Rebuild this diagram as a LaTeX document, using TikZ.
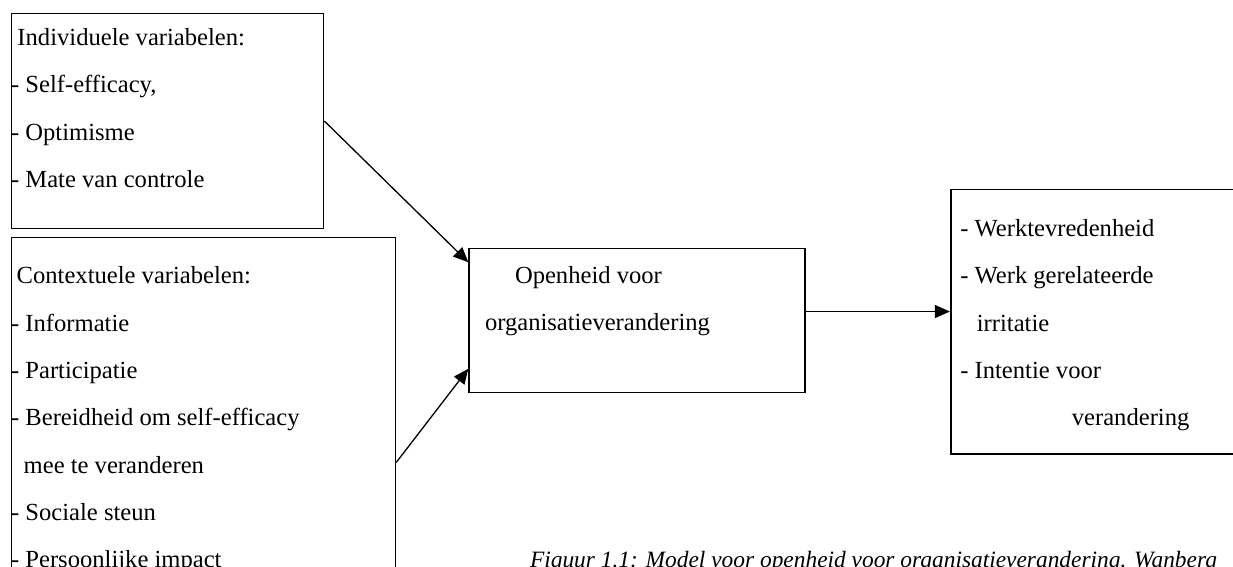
\documentclass[tikz,border=0pt]{standalone}
\usepackage{fontspec}
\setmainfont{Liberation Serif}
\usetikzlibrary{arrows.meta,positioning}
\tikzset{
  varbox/.style={draw=black,line width=0.8pt,inner sep=0pt},
  vartext/.style={inner sep=0pt,align=left,anchor=base west,
    font=\fontsize{12.3pt}{23.65pt}\selectfont},
  arr/.style={-{Triangle[length=7.5pt,width=6.5pt]},draw=black,line width=0.65pt},
}

\begin{document}
\begin{tikzpicture}[x=1pt,y=1pt]
    \useasboundingbox (0,0) rectangle (616.5,283.5);
    \clip (0,0) rectangle (616.5,283.5);

    \node[varbox,minimum width=156pt,minimum height=107.5pt,anchor=north west] (indiv) at (5.35,277.15) {};
    \node[varbox,minimum width=192pt,minimum height=225pt,below=3.65pt of indiv.south west,anchor=north west] (ctx) {};
    \node[varbox,minimum width=168pt,minimum height=72pt,below right=9.15pt and 72pt of indiv.south east] (open) {};
    \node[varbox,minimum width=180pt,minimum height=132.2pt,above right=29.35pt and 72pt of open.north east,anchor=north west] (outc) {};

    \node[vartext,below right=87.45pt and 0pt of indiv.north west,anchor=base west] (indivtxt)
      {\hspace*{3.2pt}Individuele variabelen:\\- Self-efficacy,\\- Optimisme\\- Mate van controle};
    \node[vartext,below right=165.55pt and 0pt of ctx.north west,anchor=base west] (ctxtxt)
      {\hspace*{2.8pt}Contextuele variabelen:\\- Informatie\\- Participatie\\- Bereidheid om self-efficacy\\\hspace*{6.3pt}mee te veranderen\\- Sociale steun\\- Persoonlijke impact};
    \node[vartext,below right=41.5pt and 8.15pt of open.north west,anchor=base west] (opentxt)
      {\hspace*{15pt}Openheid voor\\organisatieverandering};
    \node[vartext,below right=118.45pt and 5pt of outc.north west,anchor=base west] (outctxt)
      {- Werktevredenheid\\- Werk gerelateerde\\\hspace*{8.3pt}irritatie\\- Intentie voor\\\hspace*{55.8pt}verandering};

    \node[vartext,below right=87pt and 30.65pt of open.south west,anchor=base west,
      font=\fontsize{11.7pt}{14pt}\selectfont\itshape] (caption)
      {Figuur 1.1: Model voor openheid voor organisatieverandering. Wanberg};

    \draw[arr] (indiv.east) -- (open.161);
    \draw[arr] (ctx.east) -- (open.196);
    \draw[arr] (open.3) -- (open.3 -| outc.west);
\end{tikzpicture}
\end{document}
